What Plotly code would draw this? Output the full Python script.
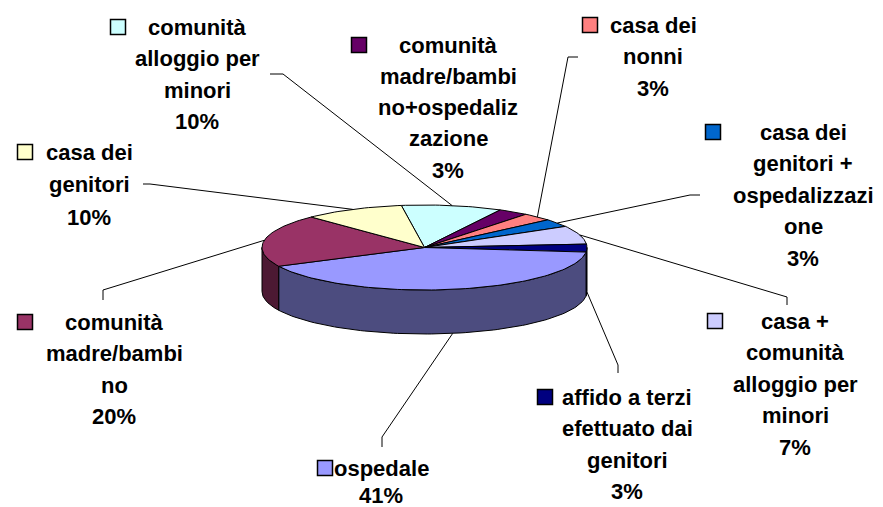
import math
import plotly.graph_objects as go

# ---------------- data ----------------
categories = [
    "comunità alloggio per minori",
    "comunità madre/bambino+ospedalizzazione",
    "casa dei nonni",
    "casa dei genitori + ospedalizzazione",
    "casa + comunità alloggio per minori",
    "affido a terzi efettuato dai genitori",
    "ospedale",
    "comunità madre/bambino",
    "casa dei genitori",
]
values = [10, 3, 3, 3, 7, 3, 41, 20, 10]
label_lines = [
    ["comunità", "alloggio per", "minori"],
    ["comunità", "madre/bambi", "no+ospedaliz", "zazione"],
    ["casa dei", "nonni"],
    ["casa dei", "genitori +", "ospedalizzazi", "one"],
    ["casa +", "comunità", "alloggio per", "minori"],
    ["affido a terzi", "efettuato dai", "genitori"],
    ["ospedale"],
    ["comunità", "madre/bambi", "no"],
    ["casa dei", "genitori"],
]
colors = ["#CCFFFF", "#660066", "#FF8080", "#0066CC", "#CCCCFF",
          "#000080", "#9999FF", "#993366", "#FFFFCC"]

# ---------------- style / layout ----------------
W, H = 883, 507
OFF = 8  # page body margin
cx, cy, a, b, depth = 424.5, 247.5, 162.5, 42.5, 44
start_angle = -8.2
font_size = 22
line_gap = 31.5
# label block: center x, first line y, legend-key x
label_cx = [197, 448, 653, 803, 795, 627, 381, 114, 89]
label_y0 = [27, 45, 25, 132, 321, 397, 468, 322, 152]
label_gap = [31.5, 31.3, 31.5, 31.5, 31.5, 31.5, 27, 31.5, 32.5]
key_x = [118, 359, 590, 713, 715, 545, 325, 25, 25]
# leader line: label-side points (None = no leader)
leader_pts = [
    [(270, 74), (283, 74)],
    None,
    [(578, 57), (568, 57)],
    [(700, 195), (690, 195)],
    [(787, 305), (787, 297)],
    [(618, 373), (618, 365)],
    [(382, 447), (382, 437)],
    [(103, 300), (103, 290)],
    [(143, 184), (150, 184)],
]


def darker(hexc, f=0.5):
    r, g, bb = int(hexc[1:3], 16), int(hexc[3:5], 16), int(hexc[5:7], 16)
    return "#%02X%02X%02X" % (int(r * f), int(g * f), int(bb * f))


def ell(th, dy=0.0):
    t = math.radians(th)
    return cx + a * math.sin(t), cy - b * math.cos(t) + dy


total = sum(values)
angles = []
acc = start_angle
for v in values:
    sweep = v / total * 360.0
    angles.append((acc, acc + sweep))
    acc += sweep

fig = go.Figure()

# side walls (front half only)
for (s, e), col in zip(angles, colors):
    s2, e2 = max(s, 90), min(e, 270)
    if e2 <= s2:
        continue
    n = max(4, int((e2 - s2) / 1.5))
    ths = [s2 + (e2 - s2) * i / n for i in range(n + 1)]
    top = [ell(t) for t in ths]
    bot = [ell(t, depth) for t in reversed(ths)]
    pts = top + bot + [top[0]]
    fig.add_trace(go.Scatter(x=[p[0] for p in pts], y=[p[1] for p in pts],
                             mode="lines", fill="toself", fillcolor=darker(col),
                             line=dict(color="black", width=1),
                             hoverinfo="skip", showlegend=False))

# top faces
for (s, e), col, name, v in zip(angles, colors, categories, values):
    n = max(4, int((e - s) / 1.5))
    ths = [s + (e - s) * i / n for i in range(n + 1)]
    pts = [(cx, cy)] + [ell(t) for t in ths] + [(cx, cy)]
    fig.add_trace(go.Scatter(x=[p[0] for p in pts], y=[p[1] for p in pts],
                             mode="lines", fill="toself", fillcolor=col,
                             line=dict(color="black", width=1),
                             name=name, hovertext=f"{name}: {v}%",
                             hoverinfo="text", showlegend=False))

# leader lines
lx, ly = [], []
for (s, e), pts in zip(angles, leader_pts):
    if pts is None:
        continue
    mid = (s + e) / 2
    m = mid % 360
    end = ell(mid, depth) if 90 < m < 270 else ell(mid)
    for p in pts:
        lx.append(p[0]); ly.append(p[1])
    lx.append(end[0]); ly.append(end[1])
    lx.append(None); ly.append(None)
fig.add_trace(go.Scatter(x=lx, y=ly, mode="lines",
                         line=dict(color="black", width=1),
                         hoverinfo="skip", showlegend=False))

# legend keys
fig.add_trace(go.Scatter(x=key_x, y=label_y0, mode="markers",
                         marker=dict(symbol="square", size=15, color=colors,
                                     line=dict(color="black", width=1.5)),
                         hoverinfo="skip", showlegend=False))

# label texts
for lines, v, x0, y0, g in zip(label_lines, values, label_cx, label_y0, label_gap):
    allines = lines + [f"{round(v / total * 100)}%"]
    for i, t in enumerate(allines):
        fig.add_annotation(x=x0, y=y0 + i * g, text=t, showarrow=False,
                           xanchor="center", yanchor="middle",
                           font=dict(family="Liberation Sans, Arial", size=font_size,
                                     color="black", weight="bold"))

fig.update_layout(
    width=W - OFF, height=H - OFF,
    margin=dict(l=0, r=0, t=0, b=0),
    paper_bgcolor="white", plot_bgcolor="white",
    xaxis=dict(range=[OFF, W], visible=False, fixedrange=True),
    yaxis=dict(range=[H, OFF], visible=False, fixedrange=True),
)
fig.write_html("out.html")
